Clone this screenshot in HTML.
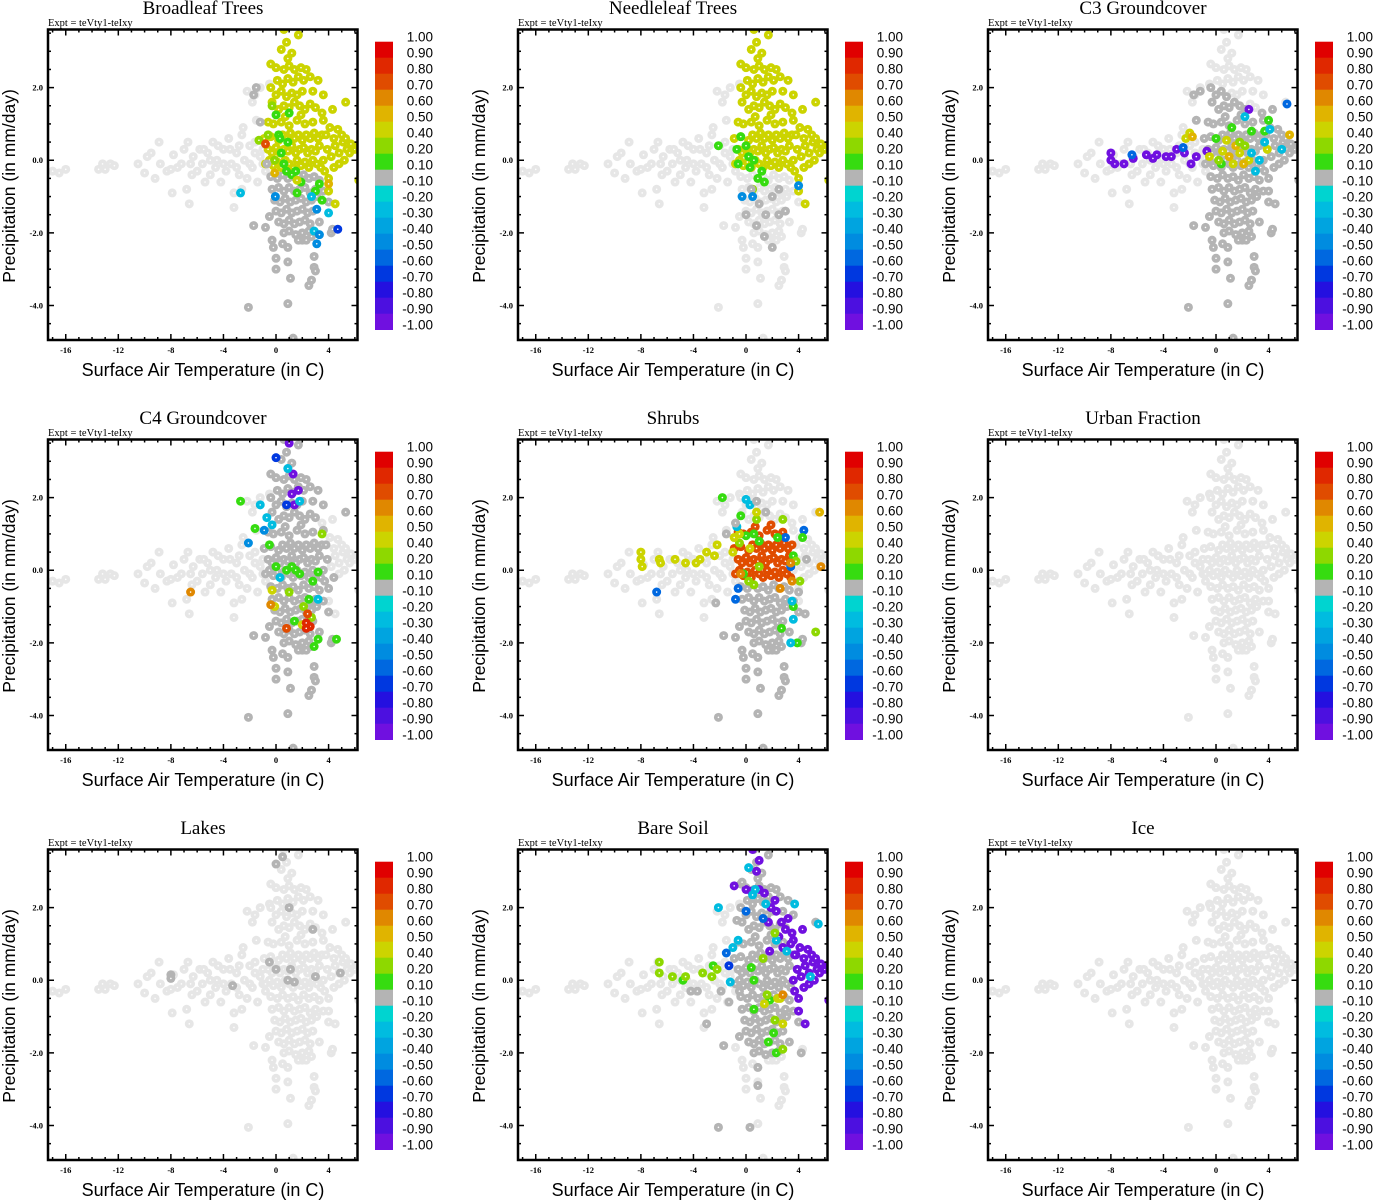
<!DOCTYPE html>
<html><head><meta charset="utf-8"><style>body{margin:0;background:#fff}svg{display:block}</style></head>
<body>
<svg id="chart" xmlns="http://www.w3.org/2000/svg" width="1373" height="1200" viewBox="0 0 1373 1200"></svg>
<script>
// ---- shared point cloud (temperature C, precipitation mm/day) ----
const tailPts=[[-17,-0.3],[-16.5,-0.35],[-16,-0.25],[-13.5,-0.25],[-13.2,-0.1],[-13,-0.25],[-12.6,-0.1],[-12.3,-0.15],[-10.5,-0.1],[-10,-0.35],[-9.8,0.1],[-9.5,0.2],[-9.2,-0.5],[-8.9,0.5],[-8.8,-0.1],[-8.3,-0.3],[-8,-0.25],[-7.9,-0.9],[-7.8,0.15],[-7.5,-0.2],[-7.2,-0.1],[-7,0.3],[-6.8,-0.8],[-6.7,0.5],[-6.6,-1.2],[-6.5,-0.1],[-6.4,-0.4],[-6.3,0.1],[-6,-0.3],[-5.8,0.3],[-5.6,-0.1],[-5.5,0.3],[-5.4,-0.6],[-5.2,0.2],[-5,-0.4],[-5,0],[-4.8,0.5],[-4.6,-0.2],[-4.5,0],[-4.4,0.4],[-4.2,-0.6],[-4,0.3],[-4,-0.1],[-3.8,-0.3],[-3.6,0.6],[-3.5,0.3],[-3.4,-0.1],[-3.2,-0.9],[-3.2,-1.3],[-3,0.2],[-3,-0.2],[-2.8,-0.4],[-2.8,0.4],[-2.6,0.7],[-2.6,-0.8],[-2.5,0.9],[-2.4,0],[-2.2,-0.5],[-2.2,1.9],[-2,0.4],[-2,-0.1],[-1.8,-0.2],[-1.8,1.6],[-1.6,0.5],[-1.6,0.2],[-1.6,1.8],[-1.5,1.1],[-1.4,-0.6],[-1.2,0.1],[-1.2,2.0],[-1,0.3],[-1,-0.1],[-0.8,-0.3],[-0.5,2.1]];
const blobUPts=[[-0.8,-0.1],[-0.5,0],[-0.2,-0.15],[0.1,-0.05],[0.4,-0.2],[0.7,0],[1.0,-0.1],[1.3,-0.2],[1.6,0],[1.9,-0.15],[2.2,-0.05],[2.5,-0.2],[2.8,0],[3.1,-0.1],[3.4,-0.2],[-0.6,0.3],[-0.3,0.2],[0,0.35],[0.3,0.2],[0.6,0.3],[0.9,0.25],[1.2,0.4],[1.5,0.2],[1.8,0.3],[2.1,0.35],[2.4,0.2],[2.7,0.3],[3.0,0.25],[3.3,0.4],[-0.9,0.6],[-0.4,0.65],[0.2,0.55],[0.5,0.7],[0.8,0.6],[1.1,0.75],[1.4,0.6],[1.7,0.7],[2.0,0.55],[2.3,0.7],[2.6,0.6],[2.9,0.75],[3.2,0.6],[3.5,0.7],[-0.2,1.0],[0.4,1.05],[1.0,0.95],[1.6,1.1],[2.2,1.0],[2.8,1.05],[0.7,1.2],[1.9,1.25],[-0.6,1.05]];
const blobLPts=[[-0.4,-0.45],[0.1,-0.5],[0.5,-0.4],[0.9,-0.5],[1.3,-0.45],[1.7,-0.55],[2.1,-0.4],[2.5,-0.5],[2.9,-0.45],[3.3,-0.55],[-0.3,-0.8],[0.2,-0.75],[0.6,-0.85],[1.0,-0.75],[1.4,-0.85],[1.8,-0.8],[2.2,-0.75],[2.6,-0.9],[3.0,-0.8],[3.6,-0.85],[-0.1,-1.1],[0.3,-1.15],[0.7,-1.05],[1.1,-1.15],[1.5,-1.1],[1.9,-1.05],[2.3,-1.15],[2.7,-1.1],[3.1,-1.0],[4.0,-1.15],[0,-1.4],[0.4,-1.45],[0.8,-1.35],[1.2,-1.45],[1.6,-1.4],[2.0,-1.35],[2.4,-1.45],[2.8,-1.4],[-0.5,-1.55],[0.2,-1.7],[0.6,-1.75],[1.0,-1.65],[1.4,-1.75],[1.8,-1.7],[2.2,-1.65],[2.6,-1.75],[-1.7,-1.8],[3.3,-1.7],[0.6,-2.0],[1.0,-1.95],[1.5,-2.05],[2.0,-2.0],[2.5,-1.95],[4.2,-2.0]];
const upPts=[[0.2,1.4],[0.6,1.5],[1.0,1.45],[1.4,1.6],[1.8,1.5],[2.2,1.4],[2.6,1.55],[3.0,1.45],[-0.3,1.6],[0,1.8],[0.4,1.9],[0.8,1.75],[1.2,1.85],[1.6,1.8],[2.0,1.9],[2.8,1.9],[3.6,1.8],[-0.4,2.0],[0.1,2.2],[0.5,2.1],[0.9,2.25],[1.3,2.15],[1.7,2.3],[2.1,2.2],[2.6,2.3],[3.2,2.2],[0,2.55],[0.6,2.5],[1.0,2.6],[1.4,2.5],[1.9,2.55],[2.3,2.5],[-0.4,2.65],[0.9,2.8],[1.2,2.95],[0.4,3.05],[0.8,3.25],[0.6,3.6],[1.7,3.45],[5.3,1.6]];
const downPts=[[-0.3,-2.2],[-0.2,-2.4],[0,-2.7],[0,-3.0],[0.9,-2.4],[0.9,-2.8],[1.1,-3.25],[2.0,-2.2],[2.3,-2.2],[2.7,-2.1],[2.9,-2.65],[2.9,-2.95],[2.7,-3.3],[2.5,-3.45],[0.9,-3.95],[-2.1,-4.05],[1.7,-2.2],[0.5,-2.3],[3.0,-3.05],[1.3,-4.9],[-0.8,-1.85],[4.3,-1.9]];
const rightPts=[[3.6,0],[3.9,0.3],[4.2,0.1],[4.5,0.4],[4.8,0.2],[5.1,0.5],[5.4,0.3],[5.7,0.45],[6.0,0.3],[6.2,0.4],[3.8,0.7],[4.1,0.9],[4.4,0.6],[4.7,0.85],[5.0,0.7],[5.3,0.6],[5.6,0.2],[3.7,-0.3],[4.0,-0.5],[4.4,-0.2],[4.8,-0.1],[5.2,0],[3.6,1.1],[4.3,1.4],[6.3,-0.55],[3.5,1.3],[4.0,-0.85],[4.5,-1.2]];

// ---- panel titles and per-segment correlation defaults (null = no data) ----
const panelTitles=["Broadleaf Trees","Needleleaf Trees","C3 Groundcover","C4 Groundcover","Shrubs","Urban Fraction","Lakes","Bare Soil","Ice"];
// order: tail, blobU, blobL, up, down, right
const segDefaults=[
 [null,0.45,0,0.45,0,0.45],
 [null,0.45,null,0.45,null,0.45],
 [null,0,0,null,0,0],
 [null,0,0,0,0,null],
 [null,0.75,0,null,0,null],
 [null,null,null,null,null,null],
 [null,null,null,null,null,null],
 [null,0,0,0,null,-0.95],
 [null,null,null,null,null,null]];
// ---- per-panel individual points [x, y, correlation] ----
const extras1=[[0.2,0.7,0.15],[0.4,0.2,0.15],[0.6,-0.1,0.15],[0.9,0.5,0.15],[1.2,-0.4,0.15],[1.5,-0.3,0.15],[1.6,-0.9,0.15],[1.9,-0.6,0.15],[0,1.25,0.15],[1.0,1.3,0.15],[0.3,0.6,0.15],[0.8,-0.3,0.15],[3.3,-0.65,0.15],[3.5,-1.1,0.15],[3.0,-0.85,0.15],[-1.3,0.55,0.3],[-0.6,0.7,0.3],[-0.1,0,0.3],[-0.3,1.5,0.3],[-0.8,0.45,0.75],[-0.1,-0.35,0.55],[4.0,-0.65,0.55],[1.6,-0.55,0.45],[-2.7,-0.9,-0.25],[2.7,-1.0,-0.25],[4.0,-1.45,-0.25],[2.9,-1.95,-0.25],[3.1,-2.3,-0.45],[-0.05,-1.0,-0.45],[3.3,-2.05,-0.45],[3.1,-1.35,-0.45],[4.7,-1.9,-0.7],[-1.2,1.05,0],[-1.7,1.8,0],[-1.5,2.0,0],[-0.7,-0.1,0]];
const extras2=[[-0.7,0.3,0.15],[-0.4,0.65,0.15],[0,0.4,0.15],[0.3,-0.2,0.15],[0.6,0,0.15],[0.9,-0.5,0.15],[1.2,-0.3,0.15],[-0.6,-0.1,0.15],[0.2,0.1,0.15],[1.4,-0.6,0.15],[0.5,-0.8,0.3],[-2.1,0.4,0.15],[0.4,-0.8,0],[1.0,-1.2,0],[1.5,-1.5,0],[2.0,-1.0,0],[2.5,-0.8,0],[0.8,-1.8,0],[1.4,-2.1,0],[2.0,-2.4,0],[2.5,-1.5,0],[3.0,-1.4,0],[0,-1.5,0],[4.0,-0.7,-0.5],[0.5,-1.0,-0.5],[-0.3,-1.0,-0.5]];
const extras3=[[-1.7,1.8,0],[-1.2,1.9,0],[-0.4,2.0,0],[-0.3,1.6,0],[0.2,1.4,0],[0.6,1.5,0],[1.0,1.45,0],[1.4,1.6,0],[0,1.8,0],[0.4,1.9,0],[0.8,1.75,0],[-1.5,1.1,0],[2.2,1.4,0],[1.8,1.5,0],[-8,0.2,-0.95],[-8,0,-0.95],[-7.7,-0.1,-0.95],[-7.0,-0.1,-0.95],[-6.3,0.05,-0.95],[-5.3,0.15,-0.95],[-4.8,0.05,-0.95],[-4.5,0.15,-0.95],[-3.8,0.1,-0.95],[-3.4,0.1,-0.95],[-3.0,0.3,-0.95],[-2.4,0.2,-0.95],[-1.9,-0.1,-0.95],[-1.5,0.1,-0.95],[-0.7,0.25,-0.95],[5.4,1.55,-0.55],[2.5,1.4,-0.95],[-6.4,0.15,-0.55],[-2.5,0.35,-0.55],[-2.3,0.6,0.45],[-2,0.75,0.45],[0.5,0.25,0.45],[1.3,-0.1,0.45],[1.8,0.2,0.45],[2.5,0,0.45],[0.8,0.55,0.45],[3.9,0.3,0.45],[-0.5,0.1,0.45],[-1.8,0.65,0.55],[1.0,0.1,0.55],[1.5,0.4,0.55],[2.1,-0.1,0.55],[5.6,0.7,0.55],[0,0.6,0.15],[1.2,0.9,0.15],[2.7,0.8,0.15],[3.7,0.8,0.15],[0.4,-0.1,0.15],[4.0,1.1,0.15],[2.2,1.2,-0.25],[3.7,0.5,-0.25],[4.1,0.85,-0.25],[3.3,0,-0.25],[2.7,0.2,-0.25],[3.0,-0.3,-0.25],[5.0,0.3,-0.25],[1.8,0.5,0.3],[2.2,0.4,0.3],[0.2,0,0.3]];
const extras4=[[3.6,0,0],[3.9,0.3,0],[3.8,0.7,0],[3.7,-0.3,0],[4.0,-0.5,0],[3.6,1.1,0],[4.4,-0.2,0],[1.0,3.5,-0.95],[1.3,2.65,-0.95],[1.7,2.2,-0.95],[1.4,1.8,-0.95],[1.2,2.1,-0.95],[0,3.1,-0.7],[0.8,1.8,-0.7],[0.9,2.8,-0.25],[-1.2,1.8,-0.25],[-0.7,1.45,-0.25],[-0.3,1.25,-0.25],[3.2,-0.8,-0.25],[0.3,-0.2,-0.25],[1.8,1.9,-0.25],[-2.1,0.75,-0.5],[-0.9,1.1,-0.5],[-2.7,1.9,0.15],[-1.6,1.15,0.15],[0,0.1,0.15],[0.8,0,0.15],[1.2,0.1,0.15],[1.5,0,0.15],[1.8,-0.1,0.15],[3.2,-0.05,0.15],[2.8,-0.3,0.15],[1.4,-1.4,0.15],[2.9,-2.1,0.15],[3.2,-1.9,0.15],[2.5,-0.8,0.15],[4.6,-1.9,0.15],[-0.5,0.7,0.15],[2.1,-1.0,0.3],[2.7,-1.3,0.3],[1.0,-0.6,0.3],[3.5,1.0,0.3],[-0.3,-0.55,0.45],[-0.1,-1.0,0.45],[2.0,-1.5,0.45],[-6.5,-0.6,0.6],[-0.4,-0.95,0.6],[2.3,-1.45,0.8],[2.6,-1.55,0.8],[2.3,-1.6,0.8],[2.4,-1.2,0.7],[0.8,-1.6,0.7]];
const extras5=[[-8,0.5,0.45],[-8,0.3,0.45],[-7.9,0.1,0.45],[-6.6,0.3,0.45],[-6.5,0.2,0.45],[-5.4,0.3,0.45],[-4.6,0.2,0.45],[-3.8,0.2,0.45],[-3.5,0.3,0.45],[-3.0,0.5,0.45],[-2.4,0.4,0.45],[-2.2,0.7,0.45],[-1.0,0.5,0.45],[-6.8,-0.6,-0.6],[-0.6,-0.5,-0.6],[-0.8,-0.8,-0.6],[3.4,0.1,-0.6],[3.0,0.9,-0.6],[4.4,1.1,-0.6],[-1.8,2.0,0.15],[-0.4,1.5,0.15],[0,0.95,0.15],[0.6,1.0,0.15],[1.0,0.8,0.15],[2.4,0.9,0.15],[3.6,0.4,0.15],[3.6,-1.0,0.15],[2.7,-1.6,0.15],[3.9,-2.0,0.15],[-0.2,-0.1,0.15],[4.3,0.9,0.15],[0.2,-0.3,0.3],[0.6,-0.4,0.3],[1.0,0.1,0.3],[3.8,0.25,0.3],[5.3,-1.7,0.3],[4.1,-0.3,0.3],[0.8,1.4,0.3],[-0.5,0.75,0.3],[2.8,1.4,0.3],[0.8,1.6,0.45],[-0.9,0.9,0.45],[-0.5,1.0,0.45],[0.3,0.6,0.45],[-0.4,-0.1,0.6],[3.4,0.2,0.6],[5.7,0.1,0.6],[2.6,-0.5,0.6],[3.5,-0.3,0.6],[5.6,1.6,0.5],[-0.7,1.2,-0.25],[0,1.95,-0.25],[0.3,1.8,-0.25],[3.5,-0.85,-0.25],[3.6,-1.35,-0.25],[3.4,-2.0,-0.25],[-0.8,1.3,0],[0.8,1.9,0],[1.5,1.6,0],[-1.5,1.0,0],[4.0,-0.6,0],[4.5,-1.2,0],[4.6,0.3,0],[-2.3,-0.9,0]];
const extras6=[];
const extras7=[[-8,0.15,0],[-8,0.05,0],[-3.3,-0.15,0],[0,3.2,0],[0.5,3.4,0],[1.0,2.0,0],[2.8,1.4,0],[-0.5,0.5,0],[0,0.3,0],[1.1,0.3,0],[0.9,0,0],[1.4,-0.05,0],[3.0,0.1,0],[4.9,0.2,0]];
const extras8=[[0.5,3.6,-0.95],[1.0,3.3,-0.95],[0.8,3.0,-0.95],[-0.9,2.6,-0.95],[0,2.5,-0.95],[0.4,2.45,-0.95],[1.0,2.5,-0.95],[1.4,2.4,-0.95],[1.9,2.0,-0.95],[2.3,1.9,-0.95],[2.7,1.6,-0.95],[3.2,1.7,-0.95],[2.5,1.2,-0.95],[3.0,1.4,-0.95],[3.4,1.0,-0.95],[2.2,2.2,-0.95],[1.7,1.6,-0.95],[2.8,0.9,-0.95],[3.7,0.7,-0.95],[3.9,0.3,-0.95],[1.8,0.8,-0.95],[-2.1,2.0,-0.25],[-0.6,1.1,-0.25],[-1.0,0.9,-0.25],[0.2,3.1,-0.25],[0.7,2.5,-0.25],[0.5,2.35,-0.25],[1.5,2.1,-0.25],[3.7,2.1,-0.25],[5.5,1.55,-0.25],[2.3,1.1,-0.25],[3.1,0.8,-0.25],[-1.2,-0.05,-0.25],[4.9,0.1,-0.25],[-1.5,0.75,-0.6],[-1.3,0.4,-0.7],[0,1.9,-0.6],[1.3,1.7,-0.6],[-4.8,0,0.15],[0.4,0.35,0.15],[0.6,-0.8,0.15],[0.6,0,0.15],[1.8,-0.55,0.15],[2.1,-1.45,0.15],[1.7,-1.7,0.15],[2.3,-2.0,0.15],[-2.5,0.4,0.15],[-6.6,0.5,0.3],[-6.6,0.2,0.3],[-5.6,0.1,0.3],[-4.6,0.1,0.3],[-3.3,0.2,0.3],[-2.6,0.1,0.3],[-2.2,0.3,0.3],[1.3,0.6,0.3],[2.2,1.3,0.3],[1.6,-0.4,0.3],[2.8,-1.9,0.3],[2.2,-1.1,0.3],[2.4,-0.5,0.45],[2.6,-0.5,0.45],[1.4,-0.65,0.45],[2.8,-1.2,0.45],[2.8,-0.4,0.6],[-4.2,-0.3,0],[-1.9,-0.3,0],[-3.0,-1.2,0],[-0.3,2.7,0],[-0.7,1.65,0],[-1.3,-0.6,0],[-0.5,-0.3,0],[-3.7,-0.3,0],[0.9,-2.4,0],[0.9,-2.9,0],[-2.1,-4.05,0],[0.3,-4.05,0]];
const extras9=[];
const panelExtras=[extras1,extras2,extras3,extras4,extras5,extras6,extras7,extras8,extras9];

// ---- axes / colorbar ----
const xTicks=[-16,-12,-8,-4,0,4];
const yTicks=[-4,-2,0,2];
const cbLabels=["1.00","0.90","0.80","0.70","0.60","0.50","0.40","0.20","0.10","-0.10","-0.20","-0.30","-0.40","-0.50","-0.60","-0.70","-0.80","-0.90","-1.00"];
const cbBounds=[1,0.9,0.8,0.7,0.6,0.5,0.4,0.2,0.1,-0.1,-0.2,-0.3,-0.4,-0.5,-0.6,-0.7,-0.8,-0.9,-1];
const cbColors=["#e00000","#e02800","#e04c00","#e08800","#e0b400","#ccd400","#8ed800","#36dc10","#b4b4b4","#00d4d0","#00bce0","#00a4e0","#008ce0","#0068e0","#0038e0","#2410e0","#4c10e0","#7010e0"];
const LIGHT="#e6e6e6";

const NS="http://www.w3.org/2000/svg";
const svg=document.getElementById('chart');
function mk(tag,attrs,parent){const e=document.createElementNS(NS,tag);for(const k in attrs)e.setAttribute(k,attrs[k]);(parent||svg).appendChild(e);return e;}
function colorFor(v){if(v===null)return LIGHT;for(let i=0;i<cbColors.length;i++){if(v>=cbBounds[i+1])return cbColors[i];}return cbColors[cbColors.length-1];}

const PX0=48,PX1=357.5,PY0=29.5,PY1=340;
const XMIN=-17.35,XMAX=6.2,YMIN=-4.95,YMAX=3.6;
function sx(x,ox){return ox+PX0+(x-XMIN)/(XMAX-XMIN)*(PX1-PX0);}
function sy(y,oy){return oy+PY0+(YMAX-y)/(YMAX-YMIN)*(PY1-PY0);}
const segments=[tailPts,blobUPts,blobLPts,upPts,downPts,rightPts];

for(let p=0;p<9;p++){
  const ox=(p%3)*470, oy=Math.floor(p/3)*410;
  const g=mk('g',{});
  
  
  const t=mk('text',{x:ox+203,y:oy+14,'text-anchor':'middle','font-family':'Liberation Serif, serif','font-size':'19'},g);
  t.textContent=panelTitles[p];
  
  
  const ex=mk('text',{x:ox+48,y:oy+26,'font-family':'Liberation Serif, serif','font-size':'10.5'},g);
  ex.textContent='Expt = teVty1-teIxy';
  
  
  const cid='clip'+p;
  const cp=mk('clipPath',{id:cid},g);
  mk('rect',{x:ox+PX0,y:oy+PY0,width:PX1-PX0,height:PY1-PY0},cp);
  const dots=mk('g',{'clip-path':'url(#'+cid+')'},g);
  
  
  const pts=[];
  segments.forEach((seg,si)=>{const v=segDefaults[p][si];seg.forEach(pt=>pts.push([pt[0],pt[1],v]));});
  const rank=v=>v===null?0:(Math.abs(v)<0.1?1:2);
  pts.sort((a,b)=>rank(a[2])-rank(b[2]));
  panelExtras[p].forEach(e=>pts.push(e));
  pts.forEach(pt=>{
    const c=mk('circle',{cx:sx(pt[0],ox),cy:sy(pt[1],oy),r:4.5,fill:colorFor(pt[2])},dots);
    
    
    mk('circle',{cx:sx(pt[0],ox),cy:sy(pt[1],oy),r:0.8,fill:'#fff'},dots);
  });
  const tk=mk('g',{stroke:'#000','stroke-width':'1.5'},g);
  for(let x=-17;x<=6;x++){const X=sx(x,ox);const L=(x%4===0)?6:3;
    mk('line',{x1:X,x2:X,y1:oy+PY1,y2:oy+PY1-L},tk);mk('line',{x1:X,x2:X,y1:oy+PY0,y2:oy+PY0+L},tk);}
  for(let y=-4.5;y<=3.5;y+=0.5){const Y=sy(y,oy);const L=(Math.abs(y%2)<1e-6)?6:3;
    mk('line',{x1:ox+PX0,x2:ox+PX0+L,y1:Y,y2:Y},tk);mk('line',{x1:ox+PX1,x2:ox+PX1-L,y1:Y,y2:Y},tk);}
  const fr=mk('rect',{x:ox+PX0,y:oy+PY0,width:PX1-PX0,height:PY1-PY0,fill:'none',stroke:'#000','stroke-width':'2.5'},g);
  
  
  xTicks.forEach(v=>{const l=mk('text',{x:sx(v,ox),y:oy+353,'text-anchor':'middle','font-family':'Liberation Serif, serif','font-size':'8.5','font-weight':'bold'},g);l.textContent=v;
    
    });
  yTicks.forEach(v=>{const l=mk('text',{x:ox+43,y:sy(v,oy)+3,'text-anchor':'end','font-family':'Liberation Serif, serif','font-size':'8.5','font-weight':'bold'},g);l.textContent=v.toFixed(1);
    
    });
  const xt=mk('text',{x:ox+203,y:oy+376,'text-anchor':'middle','font-family':'Liberation Sans, sans-serif','font-size':'18'},g);
  xt.textContent='Surface Air Temperature (in C)';
  
  
  const yt=mk('text',{x:0,y:0,'text-anchor':'middle','font-family':'Liberation Sans, sans-serif','font-size':'17.5',transform:'translate('+(ox+15)+','+(oy+186)+') rotate(-90)'},g);
  yt.textContent='Precipitation (in mm/day)';
  
  
  const cb=mk('g',{},g);
  
  
  cbColors.forEach((c,i)=>{const r=mk('rect',{x:ox+375,y:oy+41.7+i*16,width:18,height:16.3,fill:c},cb);
    
    });
  cbLabels.forEach((s,i)=>{const l=mk('text',{x:ox+433,y:oy+41.5+i*16,'text-anchor':'end','font-family':'Liberation Sans, sans-serif','font-size':'13.5'},cb);l.textContent=s;
    
    });
}
</script>
</body></html>
